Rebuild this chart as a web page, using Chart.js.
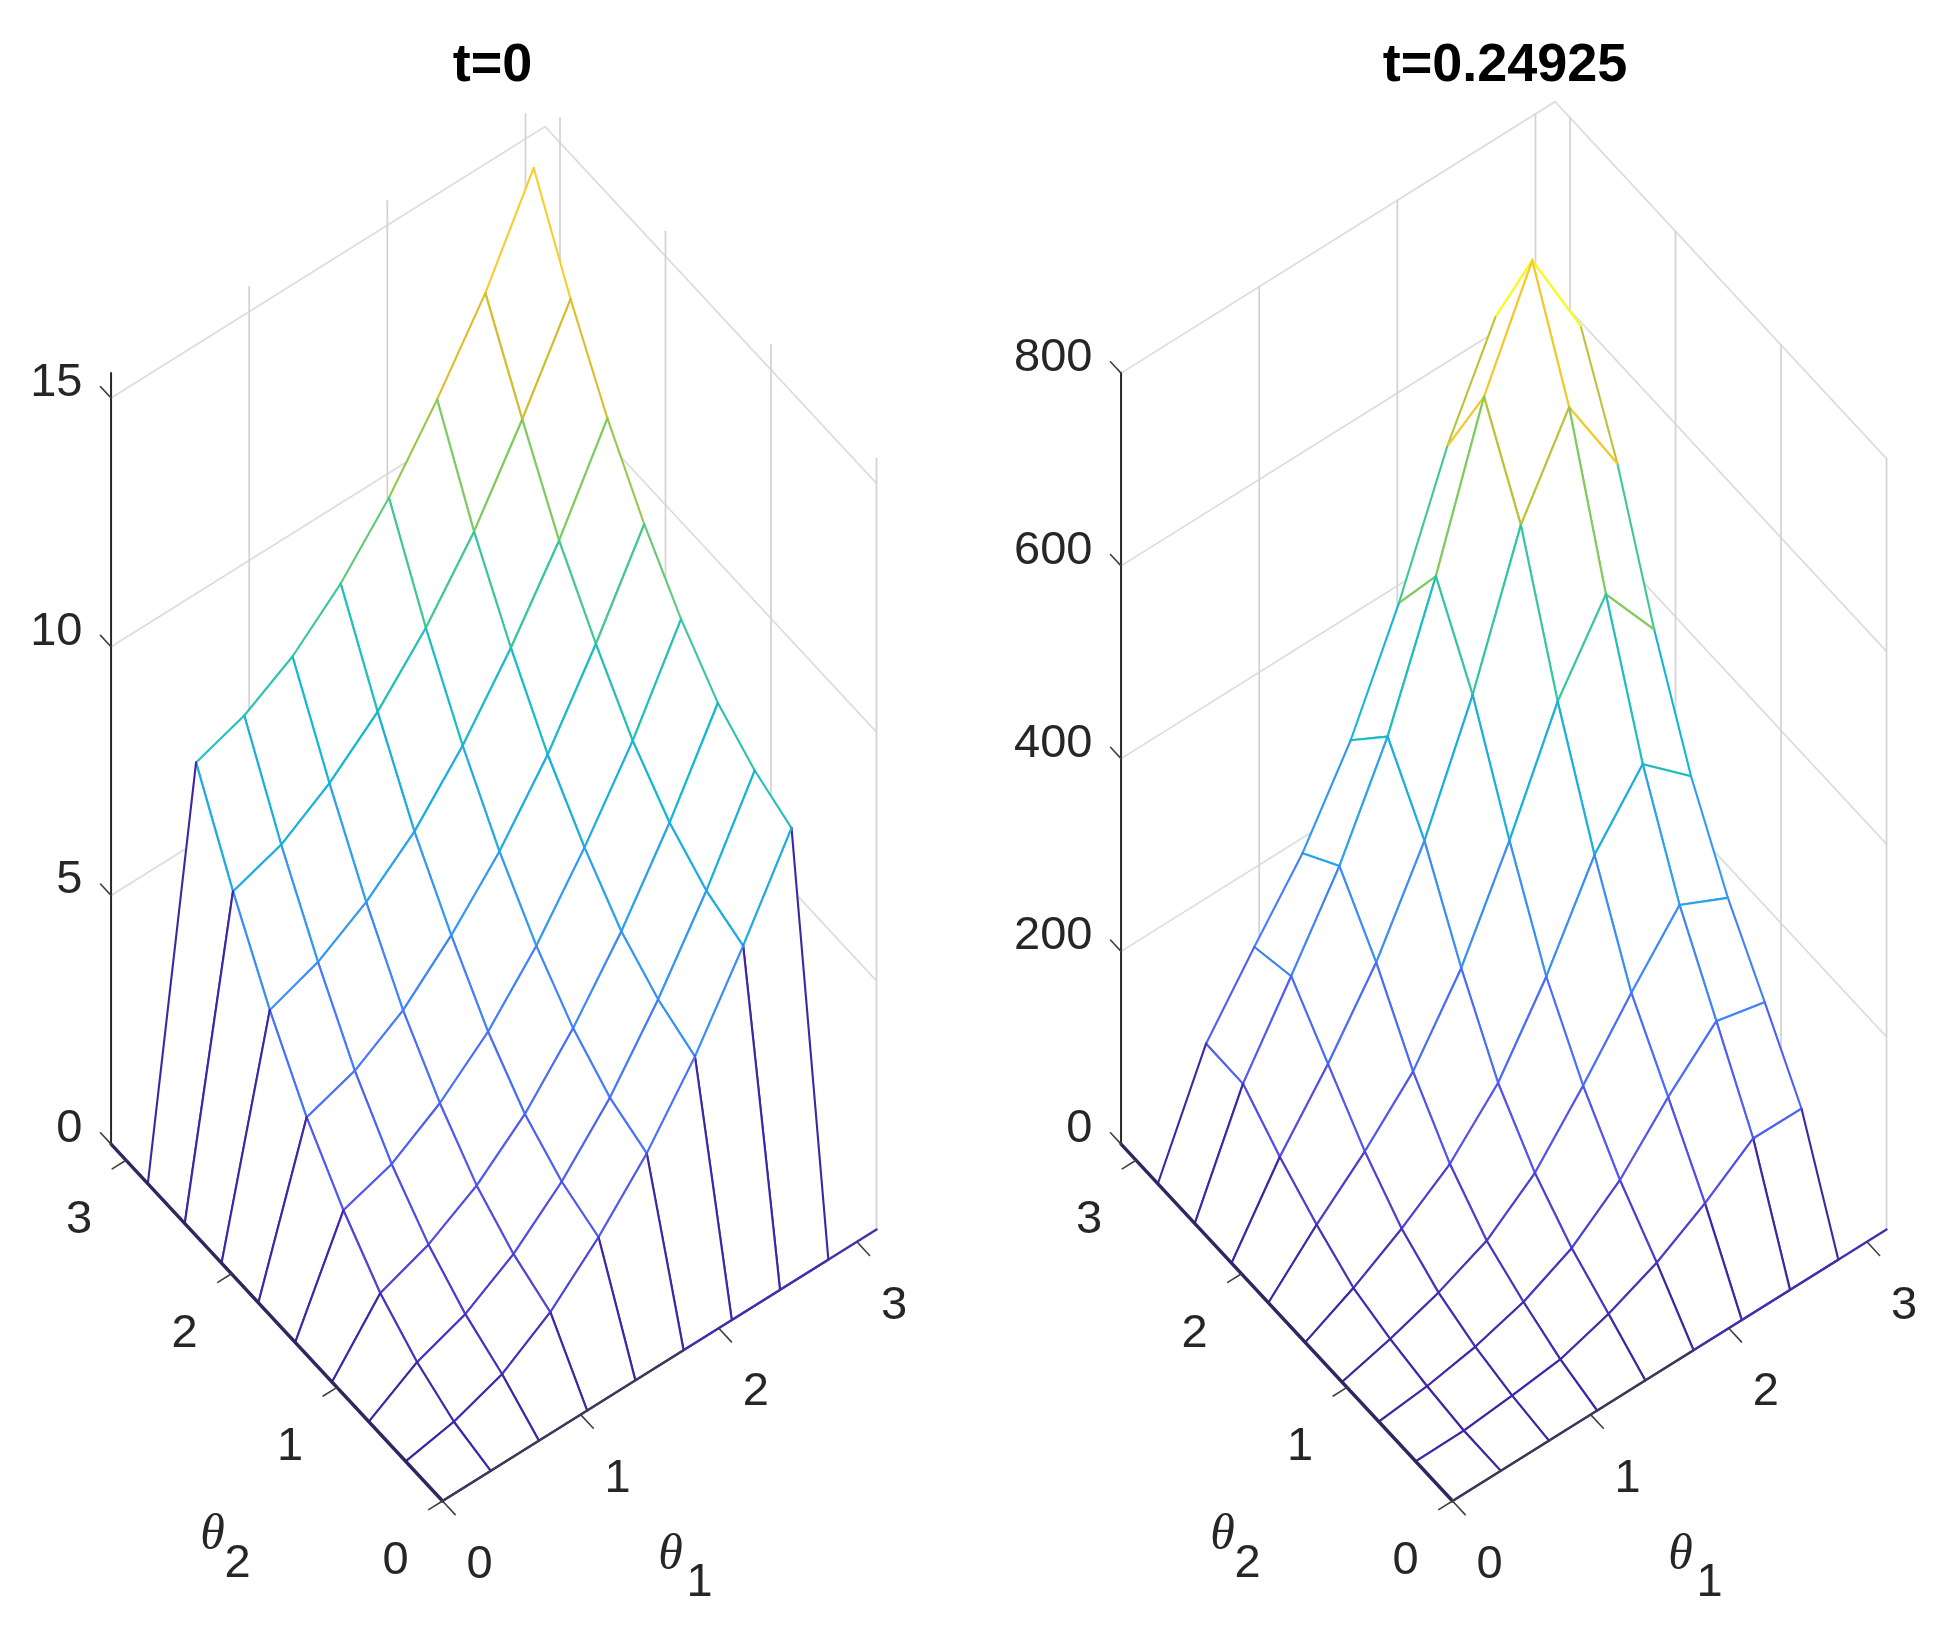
<!DOCTYPE html>
<html>
<head>
<meta charset="utf-8">
<title>mesh</title>
<script src="https://cdn.jsdelivr.net/npm/chart.js@4"></script>
<style>
    html, body { margin: 0; padding: 0; background: #fff; }
    canvas { position: absolute; top: 0; filter: blur(0.5px); }
    #left-chart { left: 0; }
    #right-chart { left: 973px; }
</style>
</head>
<body>
<canvas id="left-chart" width="973" height="1628"></canvas>
<canvas id="right-chart" width="973" height="1628"></canvas>
<script>
// grid of the mesh, theta1 and theta2 use the same nodes
const thetaNodes = [0, 0.349, 0.698, 1.047, 1.396, 1.745, 2.094, 2.443, 2.793];
const thetaMax = 3.1416;
const thetaTicks = [0, 1, 2, 3];

// rows are theta2, columns are theta1
const surfaceT0 = [
    [0, 0, 0, 0, 0, 0, 0, 0, 0],
    [0, 0.19, 0.54, 1.18, 2.08, 3.16, 4.50, 6.12, 7.88],
    [0, 0.59, 0.95, 1.55, 2.40, 3.48, 4.85, 6.43, 8.24],
    [0, 1.18, 1.55, 2.13, 2.96, 4.08, 5.42, 7.00, 8.80],
    [0, 2.05, 2.37, 2.99, 3.82, 4.94, 6.31, 7.85, 9.69],
    [0, 3.12, 3.45, 4.06, 4.96, 6.04, 7.38, 9.00, 10.80],
    [0, 4.48, 4.84, 5.44, 6.25, 7.37, 8.73, 10.28, 12.13],
    [0, 6.07, 6.40, 7.03, 7.86, 8.94, 10.27, 11.92, 13.73],
    [0, 7.86, 8.20, 8.78, 9.64, 10.76, 12.13, 13.66, 15.57]
];
const surfaceT1 = [
    [0, 0, 0, 0, 0, 0, 0, 0, 0],
    [0, 0.5, 5.6, 11.9, 27.8, 49.6, 80, 116, 115.5],
    [0, 5.5, 15.1, 30.3, 54.9, 94.2, 149, 196.6, 184.9],
    [0, 13.3, 30.2, 52.7, 91.7, 151, 216, 276, 252],
    [0, 25.1, 55.4, 91.2, 144, 223, 318, 381, 337],
    [0, 49.6, 94.3, 146, 222, 323, 436, 516, 448],
    [0, 78.8, 144, 218, 313, 433, 578, 669, 579],
    [0, 113.6, 194, 277, 380, 515, 670, 780, 681],
    [0, 114, 183, 249, 335, 446, 577, 680, 520]
];
const zTicksT0 = [0, 5, 10, 15];
const zTicksT1 = [0, 200, 400, 600, 800];
const zTopT0 = 15.5;
const zTopT1 = 800;

// colormap stops (parula, blues a bit paler like the picture)
const parula = [
    [62, 38, 168], [84, 82, 238], [70, 122, 255], [48, 158, 240], [16, 184, 212],
    [52, 198, 162], [129, 204, 89], [220, 189, 41], [252, 206, 46], [249, 251, 21]
];

function getColor(value, maxValue) {
    const pos = Math.min(value / maxValue, 1) * (parula.length - 1);
    const low = Math.min(Math.floor(pos), parula.length - 2);
    const f = pos - low;
    const c = [0, 1, 2].map(k => Math.round(parula[low][k] + (parula[low + 1][k] - parula[low][k]) * f));
    return `rgb(${c[0]},${c[1]},${c[2]})`;
}

function lineSet(points, color, width) {
    return {
        data: points,
        showLine: true,
        fill: false,
        pointRadius: 0,
        borderColor: color,
        borderWidth: width,
        borderCapStyle: 'round'
    };
}

function drawPanel(canvasId, originX, surface, zTicks, zTop, title, titleX) {
    const zPerPixel = 771 / zTop;

    // 3d view: theta1 goes up right, theta2 goes up left, z goes up
    function project(t1, t2, z) {
        return {
            x: originX + 138.15 * t1 - 105.5 * t2,
            y: 1501 - 86.4 * t1 - 113.6 * t2 - z * zPerPixel
        };
    }

    const zMax = Math.max(...surface.flat());
    const sets = [];

    // back walls
    zTicks.filter(z => z > 0).forEach(z => {
        sets.push(lineSet([project(0, thetaMax, z), project(thetaMax, thetaMax, z), project(thetaMax, 0, z)], '#dcdcdc', 1.7));
    });
    thetaTicks.forEach(t => {
        if (t > 0) sets.push(lineSet([project(t, thetaMax, 0), project(t, thetaMax, zTop)], '#d2d2d2', 1.7));
        sets.push(lineSet([project(thetaMax, t, 0), project(thetaMax, t, zTop)], '#d2d2d2', 1.7));
    });

    // quads far to near so the white faces hide what is behind them
    const quads = [];
    for (let j = 0; j < thetaNodes.length - 1; j++) {
        for (let i = 0; i < thetaNodes.length - 1; i++) {
            quads.push({ i, j, depth: 30.2 * i + 39.7 * j });
        }
    }
    quads.sort((a, b) => b.depth - a.depth);

    quads.forEach(({ i, j }) => {
        const corners = [[i, j], [i + 1, j], [i + 1, j + 1], [i, j + 1], [i, j]];
        const points = corners.map(([a, b]) => project(thetaNodes[a], thetaNodes[b], surface[b][a]));

        sets.push({
            data: points,
            showLine: true,
            fill: 'shape',
            backgroundColor: '#ffffff',
            pointRadius: 0,
            borderWidth: 0
        });

        // every edge takes the colour of its lower index node
        const edgeColors = [
            getColor(surface[j][i], zMax),
            getColor(surface[j][i + 1], zMax),
            getColor(surface[j + 1][i], zMax),
            getColor(surface[j][i], zMax)
        ];
        const edges = lineSet(points, edgeColors[0], 2.1);
        edges.segment = { borderColor: ctx => edgeColors[ctx.p0DataIndex] };
        sets.push(edges);
    });

    // axes
    sets.push(lineSet([project(0, thetaMax, 0), project(0, thetaMax, zTop)], '#262626', 2));
    sets.push(lineSet([project(0, 0, 0), project(0, thetaMax, 0)], '#2c2860', 3.4));
    sets.push(lineSet([project(0, 0, 0), project(1.75, 0, 0)], '#3b3b55', 2.4));
    sets.push(lineSet([project(1.75, 0, 0), project(thetaMax, 0, 0)], '#4030b0', 2.4));

    thetaTicks.forEach(t => {
        sets.push(lineSet([project(t, 0, 0), project(t, -0.12, 0)], '#404040', 1.6));
        sets.push(lineSet([project(0, t, 0), project(-0.1, t, 0)], '#404040', 1.6));
    });
    zTicks.forEach(z => {
        sets.push(lineSet([project(0, thetaMax, z), project(0, thetaMax + 0.1, z)], '#404040', 1.6));
    });

    sets.forEach((set, idx) => { set.order = sets.length - idx; });

    const textPlugin = {
        id: 'panelText',
        afterDraw(chart) {
            const ctx = chart.ctx;
            const sx = chart.scales.x;
            const sy = chart.scales.y;
            const put = (text, p, dx, dy, font, color, align) => {
                ctx.font = font;
                ctx.fillStyle = color;
                ctx.textAlign = align;
                ctx.textBaseline = 'alphabetic';
                ctx.fillText(text, sx.getPixelForValue(p.x) + dx, sy.getPixelForValue(p.y) + dy);
            };
            const tickFont = '47px "Liberation Sans"';
            const tickColor = '#262626';

            zTicks.forEach(z => {
                const p = project(0, thetaMax, z);
                put(String(z), { x: originX - 360, y: p.y }, 0, -2, tickFont, tickColor, 'right');
            });
            thetaTicks.forEach(t => {
                put(String(t), project(t, 0, 0), 37, 77, tickFont, tickColor, 'center');
                put(String(t), project(0, t, 0), -47, 73, tickFont, tickColor, 'center');
            });

            const o = project(0, 0, 0);
            put('\u03B8', o, -230, 48, 'italic 50px "Liberation Serif"', tickColor, 'center');
            put('2', o, -205, 76, tickFont, tickColor, 'center');
            put('\u03B8', o, 228, 68, 'italic 50px "Liberation Serif"', tickColor, 'center');
            put('1', o, 257, 95, tickFont, tickColor, 'center');
            put(title, { x: titleX, y: 81 }, 0, 0, 'bold 54px "Liberation Sans"', '#000000', 'center');
        }
    };

    new Chart(document.querySelector(canvasId).getContext('2d'), {
        type: 'scatter',
        data: { datasets: sets },
        plugins: [textPlugin],
        options: {
            responsive: false,
            animation: false,
            layout: { padding: 0 },
            plugins: { legend: { display: false }, tooltip: { enabled: false }, title: { display: false } },
            scales: {
                x: { type: 'linear', display: false, min: 0, max: 973 },
                y: { type: 'linear', display: false, min: 0, max: 1628, reverse: true }
            }
        }
    });
}

drawPanel('#left-chart', 442.5, surfaceT0, zTicksT0, zTopT0, 't=0', 492.5);
drawPanel('#right-chart', 479.5, surfaceT1, zTicksT1, zTopT1, 't=0.24925', 532);
</script>
</body>
</html>
